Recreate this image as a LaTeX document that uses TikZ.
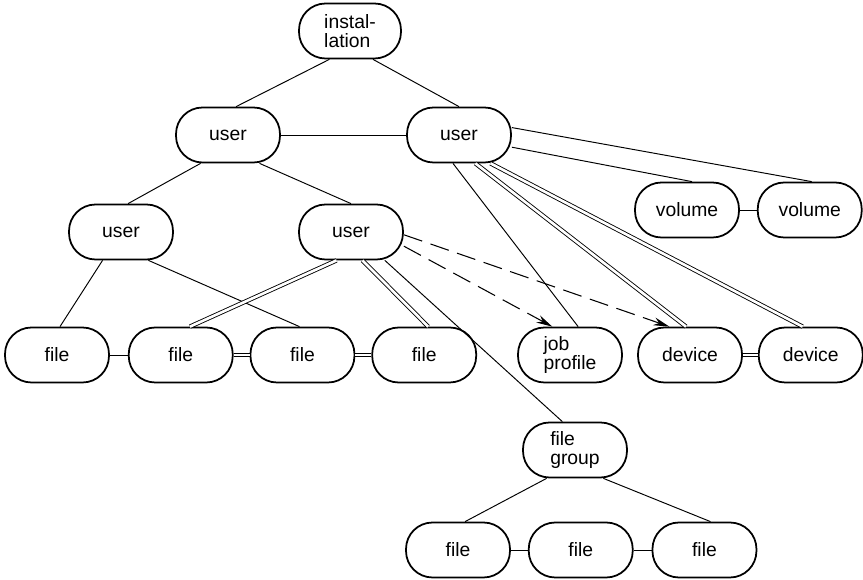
\documentclass[tikz,border=0pt]{standalone}
\usepackage{fontspec}
\setmainfont{Liberation Sans}
\usepackage{tikz}
\usetikzlibrary{arrows.meta,positioning}

\begin{document}
\begin{tikzpicture}[x=0.02cm, y=-0.02cm,
    ent/.style={draw, line width=1pt, rounded corners=0.53cm, minimum width=2.08cm,
                minimum height=1.1cm, align=left, font=\fontsize{11}{11}\selectfont, inner sep=1pt},
    ln/.style={line width=0.55pt},
    dbl/.style={double, double distance=1.5pt, line width=0.5pt},
    dsh/.style={line width=0.6pt, dash pattern=on 11pt off 5pt,
                -{Stealth[length=3.2mm, width=1.6mm]}}]
    \useasboundingbox (0,0) rectangle (863,580);
    \node[ent, minimum width=2.04cm] (inst) at (350,31) {instal-\\lation};
    \node[ent] (ua) at (228,135) {user};
    \node[ent] (ub) at (459,135) {user};
    \node[ent] (uc) at (121,232) {user};
    \node[ent] (ud) at (351,232) {user};
    \node[ent] (fa) at (57,355) {file};
    \node[ent, right=0.36cm of fa] (fb) {file};
    \node[ent, right=0.32cm of fb] (fc) {file};
    \node[ent, right=0.32cm of fc] (fd) {file};
    \node[ent] (jp) at (570,355) {job\\profile};
    \node[ent] (da) at (690,355) {device};
    \node[ent, right=0.3cm of da] (db) {device};
    \node[ent] (va) at (687,210) {volume};
    \node[ent, right=0.34cm of va] (vb) {volume};
    \node[ent] (fg) at (575,450) {file\\group};
    \node[ent] (ga) at (458,550) {file};
    \node[ent, right=0.34cm of ga] (gb) {file};
    \node[ent, right=0.36cm of gb] (gc) {file};
    \draw[ln] (inst.234) -- (ua.74);
    \draw[ln] (inst.309) -- (ub.north);
    \draw[ln] (ua.east) -- (ub.west);
    \draw[ln] (ua.226) -- (uc.76);
    \draw[ln] (ua.318) -- (ud.north);
    \draw[ln] (uc.237) -- (fa.84);
    \draw[ln] (uc.314) -- (fc.96);
    \draw[dbl] (ud.243) -- (fb.72);
    \draw[dbl] (ud.292) -- (fd.82);
    \draw[ln] (ud.320) -- (fg.114);
    \draw[dsh] (ud.345) -- (jp.122);
    \draw[dsh] (ud.357) -- (da.126);
    \draw[ln] (ub.258) -- (jp.74);
    \draw[dbl] (ub.300) -- (da.98);
    \draw[dbl] (ub.318) -- (db.106);
    \draw[ln] (ub.347) -- (va.80);
    \draw[ln] (ub.8) -- (vb.86);
    \draw[ln] (fa) -- (fb);
    \draw[dbl] (fb) -- (fc);
    \draw[dbl] (fc) -- (fd);
    \draw[ln] (va) -- (vb);
    \draw[dbl] (da) -- (db);
    \draw[ln] (fg.225) -- (ga.76);
    \draw[ln] (fg.315) -- (gc.78);
    \draw[ln] (ga) -- (gb);
    \draw[ln] (gb) -- (gc);
\end{tikzpicture}
\end{document}
